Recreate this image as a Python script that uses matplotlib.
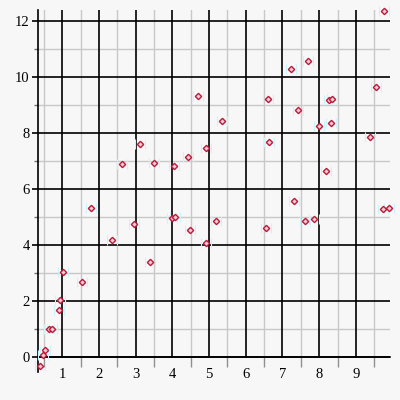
import numpy as np
import matplotlib
matplotlib.use('Agg')
import matplotlib.pyplot as plt
from matplotlib.path import Path

# point data
x_vals = [0.39, 0.48, 0.53, 0.64, 0.72, 0.91, 0.94, 1.02, 1.54, 1.79,
          2.36, 2.96, 3.39, 3.99, 4.07, 4.48, 4.92, 5.19, 6.55, 7.32,
          7.61, 7.86, 9.74, 9.90,
          2.63, 3.12, 3.51, 4.04, 4.43, 4.69, 9.77, 7.70, 7.23, 9.55,
          6.61, 8.26, 8.36, 7.42, 5.35, 8.00, 8.32, 4.92, 6.64, 9.39, 8.19]
y_vals = [-0.32, 0.07, 0.25, 1.00, 1.00, 1.68, 2.04, 3.04, 2.68, 5.32,
          4.18, 4.75, 3.39, 4.96, 5.00, 4.54, 4.07, 4.86, 4.60, 5.57,
          4.86, 4.93, 5.29, 5.32,
          6.89, 7.60, 6.94, 6.83, 7.13, 9.31, 12.37, 10.56, 10.30, 9.63,
          9.21, 9.17, 9.21, 8.81, 8.44, 8.24, 8.36, 7.46, 7.68, 7.85, 6.64]

x_major = [1, 2, 3, 4, 5, 6, 7, 8, 9]
x_minor = [0.5, 1.5, 2.5, 3.5, 4.5, 5.5, 6.5, 7.5, 8.5, 9.5]
y_major = [0, 2, 4, 6, 8, 10, 12]
y_minor = [1, 3, 5, 7, 9, 11]

XLIM = (0.34, 9.93)
YLIM = (-0.54, 12.39)
BG = '#f7f7f7'

plt.rcParams['font.family'] = ['Liberation Serif', 'DejaVu Serif']

fig = plt.figure(figsize=(4, 4), dpi=100, facecolor=BG)
ax = fig.add_axes([0.095, 0.07, 0.88, 0.905], facecolor=BG)
ax.set_xlim(*XLIM)
ax.set_ylim(*YLIM)

# grid only above the x axis (y=0), as in the reference
y0 = (0 - YLIM[0]) / (YLIM[1] - YLIM[0])
for xv in x_minor:
    ax.axvline(xv, ymin=y0, ymax=1, color='#c8c8c8', lw=1.0, zorder=1)
for xv in x_major:
    ax.axvline(xv, ymin=y0, ymax=1, color='black', lw=1.2, zorder=2)
for yv in y_minor:
    ax.axhline(yv, color='#c8c8c8', lw=1.0, zorder=1)
for yv in y_major:
    ax.axhline(yv, color='black', lw=1.2, zorder=2)

for s in ('top', 'right'):
    ax.spines[s].set_visible(False)
ax.spines['bottom'].set_position(('data', 0))
ax.spines['left'].set_position(('data', XLIM[0]))
for s in ('bottom', 'left'):
    ax.spines[s].set_linewidth(1.2)
    ax.spines[s].set_zorder(3)

ax.set_xticks(x_major)
ax.set_xticks(x_minor, minor=True)
ax.set_yticks(y_major)
ax.set_yticks(y_minor, minor=True)
ax.tick_params(axis='x', which='major', length=0, pad=8, labelsize=10.5)
ax.tick_params(axis='x', which='minor', length=7, width=1, color='#909090')
ax.tick_params(axis='y', which='major', length=4, width=1.2, pad=2, labelsize=10.5)
ax.tick_params(axis='y', which='minor', length=3, width=1, color='#707070')

# faint cyan flanks around each marker
flank = Path([(-1, -1), (-1, 1), (1, -1), (1, 1)],
             [Path.MOVETO, Path.LINETO, Path.MOVETO, Path.LINETO])
ax.plot(x_vals, y_vals, ls='none', marker=flank, ms=7, mew=0.8,
        mec='#c8f4fa', zorder=4, clip_on=False)
ax.plot(x_vals, y_vals, ls='none', marker='D', ms=3.2, mfc='#f0d0d8',
        mec='#c0183a', mew=1.0, zorder=5, clip_on=False)

fig.savefig('out.png', dpi=100, facecolor=BG)
